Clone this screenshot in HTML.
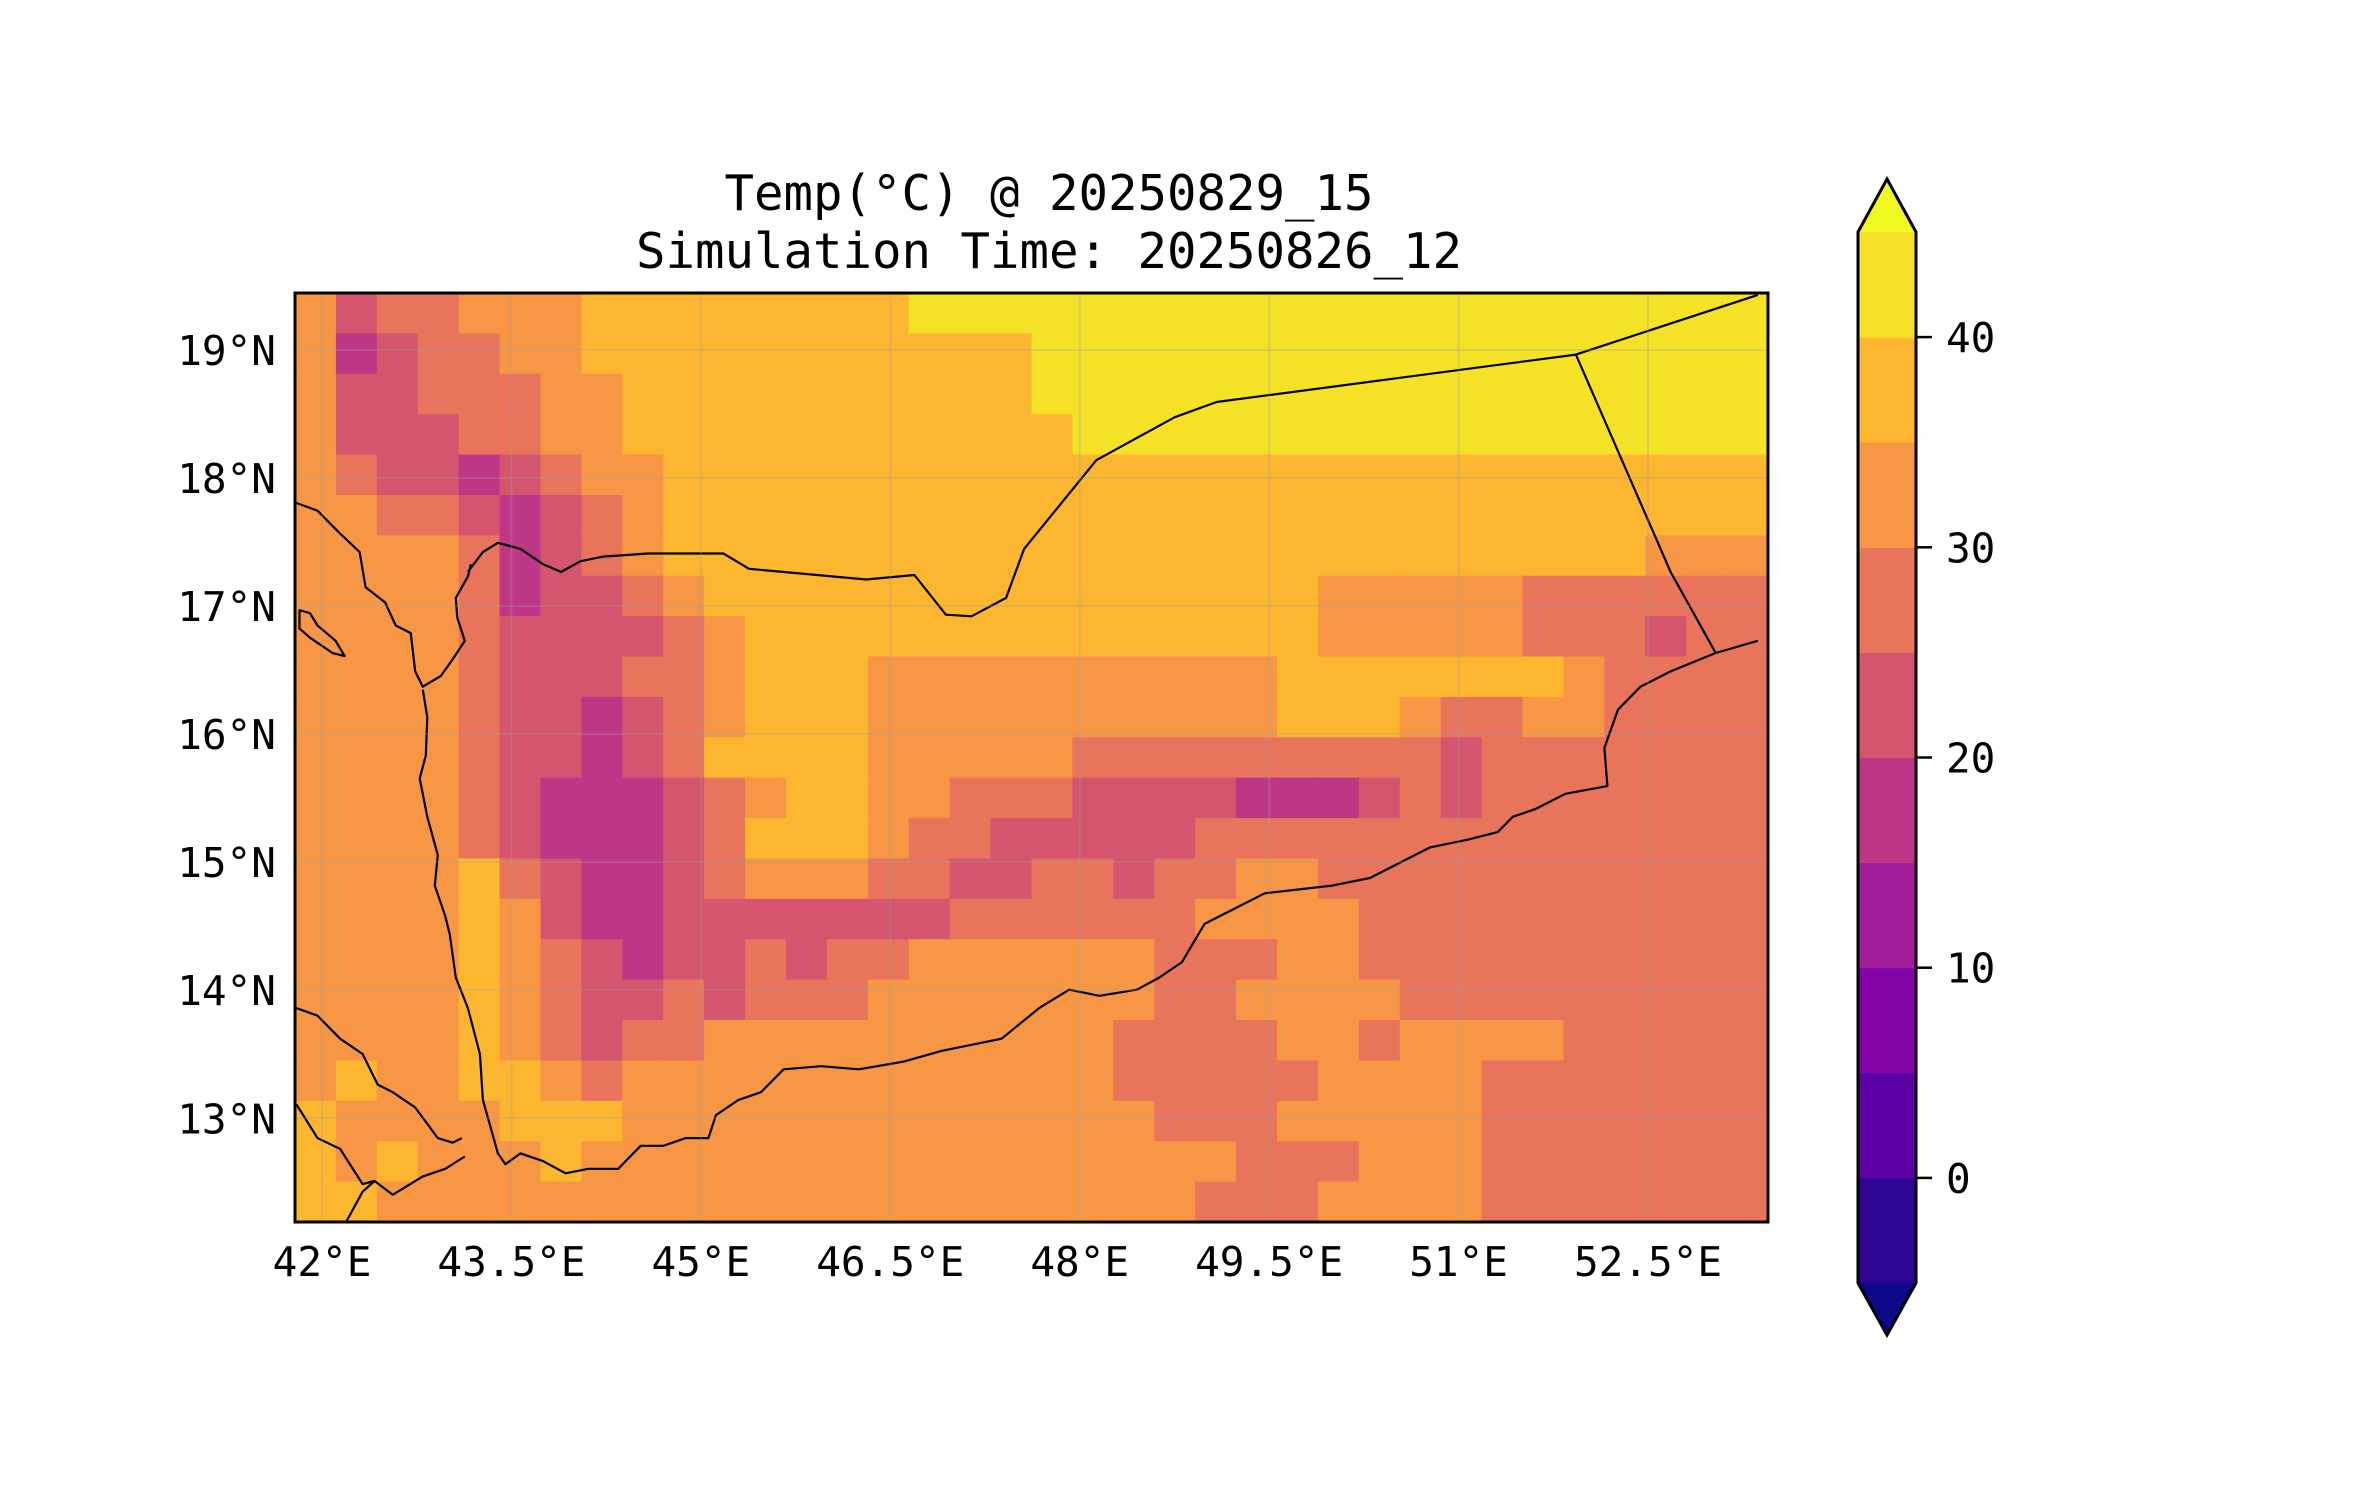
<!DOCTYPE html>
<html><head><meta charset="utf-8">
<style>
html,body{margin:0;padding:0;background:#fff;}
svg{display:block;font-family:"DejaVu Sans Mono","Liberation Mono",monospace;}
</style></head>
<body>
<svg id="fig" width="2371" height="1500" viewBox="0 0 2371 1500" xmlns="http://www.w3.org/2000/svg">
<rect width="2371" height="1500" fill="#fff"/>
<text x="1049" y="210" font-size="49" text-anchor="middle">Temp(°C) @ 20250829_15</text>
<text x="1049" y="268" font-size="49" text-anchor="middle">Simulation Time: 20250826_12</text>
<defs><clipPath id="mapclip"><rect x="295" y="293" width="1473" height="929"/></clipPath></defs>
<g id="map" clip-path="url(#mapclip)"></g>
<g id="lines" clip-path="url(#mapclip)"></g>
<g id="grid"></g>
<rect x="295" y="293" width="1473" height="929" fill="none" stroke="#000" stroke-width="3"/>
<g id="xticks"></g>
<g id="yticks"></g>
<g id="cbar"></g>
</svg>
<script>
// ---- data ----
const levelColors = ["#0d0887","#2c0594","#5c01a6","#8305a7","#a21d9a","#bd3786","#d5546e","#e8745b","#f79745","#fdb62f","#f5e227","#f0f921"];
const levelBounds = [-5,0,5,10,15,20,25,30,35,40,45];
const cbarTicks = [0,10,20,30,40];
const lonTicks = [42,43.5,45,46.5,48,49.5,51,52.5];
const latTicks = [13,14,15,16,17,18,19];
// temperature class grid (digit k -> colour index k+3): rows north->south
const tempGrid = [
"534455566666666777777777777777777777",
"523445566666666666777777777777777777",
"533444556666666666777777777777777777",
"533344556666666666677777777777777777",
"543323455666666666666666666666666666",
"554432345666666666666666666666666666",
"555542345666666666666666666666666555",
"555542334566666666666666655555444444",
"555543333456666666666666655555444344",
"555543334456665555555555666666654444",
"555543323456665555555555666544554444",
"555543323466665555544444444434444444",
"555543222345665544433332223434444444",
"555543222346665443333344444444444444",
"555564322345554433443445544444444444",
"555565322333333344444455554444444444",
"555565432334344555555444554444444444",
"555565433434445555555445555444444444",
"555565434455555555554444554555544444",
"565566545555555555554444455554444444",
"655556665555555555555444555554444444",
"656555655555555555555554445554444444",
"665555555555555555555544455554444444"
];
const lonMin=41.786, lonMax=53.45, latMax=19.445, latMin=12.19;
const X0=295,X1=1768,Y0=293,Y1=1222;
const lx = lon => X0+(lon-lonMin)/(lonMax-lonMin)*(X1-X0);
const ly = lat => Y0+(latMax-lat)/(latMax-latMin)*(Y1-Y0);
const dl = xd => 42+(xd-213)/84;
const dt = yd => 19-(yd-230)/83.67;
const coastArabia=[[196,330],[210,335],[225,350],[238,362],[242,385],[255,395],[262,410],[272,415],[275,440],[280,450],[292,443],[300,432],[308,420],[303,405],[302,392],[310,378],[312,370]];
const coastYemen=[[280,452],[283,470],[282,495],[278,510],[283,535],[290,560],[288,580],[295,600],[298,612],[302,640],[310,660],[318,690],[320,720],[330,755],[335,762],[345,755],[360,760],[375,768],[390,765],[410,765],[425,750],[440,750],[455,745],[470,745],[475,730],[490,720],[505,715],[520,700],[545,698],[570,700],[600,695],[625,688],[665,680],[690,660],[710,648],[730,652],[755,648],[770,640],[785,630],[800,605],[820,595],[840,585],[885,580],[910,575],[930,565],[950,555],[975,550],[995,545],[1005,535],[1020,530],[1040,520],[1068,515],[1066,490],[1075,465],[1090,450],[1110,440],[1140,428],[1168,420]];
const coastAfrica1=[[196,660],[210,665],[225,680],[240,690],[250,710],[260,715],[275,725],[290,745],[300,748],[306,745]];
const coastAfrica2=[[196,723],[210,745],[225,752],[240,775],[248,773],[260,782],[280,770],[295,765],[308,757]];
const borderAfrica=[[225,807],[240,780],[248,773]];
const borderSaudi=[[310,375],[320,362],[330,356],[345,360],[360,370],[372,375],[385,368],[400,365],[430,363],[480,363],[497,373],[575,380],[607,377],[628,403],[645,404],[668,392],[680,360],[728,302],[780,274],[808,264],[1047,233],[1168,194]];
const borderOman=[[1047,233],[1110,375],[1140,428]];
const redIslands=[[198,400],[205,402],[210,410],[222,420],[228,430],[220,428],[205,418],[198,412]];

const NS="http://www.w3.org/2000/svg";
function mk(tag,attrs,parent){const e=document.createElementNS(NS,tag);for(const k in attrs)e.setAttribute(k,attrs[k]);parent.appendChild(e);return e;}

const mapG=document.getElementById('map');
const nR=tempGrid.length,nC=tempGrid[0].length;
const cw=(X1-X0)/nC,ch=(Y1-Y0)/nR;
for(let r=0;r<nR;r++){for(let c=0;c<nC;c++){
  const k=+tempGrid[r][c];
  const cell=mk('rect',{x:(X0+c*cw).toFixed(2),y:(Y0+r*ch).toFixed(2),width:(cw+0.6).toFixed(2),height:(ch+0.6).toFixed(2),fill:levelColors[k+3]},mapG);
  
  
}}

const linesG=document.getElementById('lines');
function poly(pts,name,closed){
  const d=pts.map(p=>lx(dl(p[0])).toFixed(1)+','+ly(dt(p[1])).toFixed(1)).join(' ');
  const e=mk(closed?'polygon':'polyline',{points:d,fill:'none',stroke:'#000','stroke-width':2.2,'stroke-linejoin':'round'},linesG);
  
  
}
poly(coastArabia,'coastline-arabia-red-sea');
poly(coastYemen,'coastline-yemen');
poly(coastAfrica1,'coastline-eritrea');
poly(coastAfrica2,'coastline-djibouti');
poly(borderAfrica,'border-djibouti');
poly(borderSaudi,'border-saudi-yemen');
poly(borderOman,'border-oman');
poly(redIslands,'island-farasan',true);

const gridG=document.getElementById('grid'),xtG=document.getElementById('xticks'),ytG=document.getElementById('yticks');
lonTicks.forEach(v=>{
  const x=lx(v);
  const g=mk('line',{x1:x,x2:x,y1:Y0,y2:Y1,stroke:'rgba(160,160,160,0.3)','stroke-width':2},gridG);
  
  
  const t=mk('text',{x:x,y:1276,'font-size':41,'text-anchor':'middle'},xtG);
  t.textContent=v+'°E';
  
  
});
latTicks.forEach(v=>{
  const y=ly(v);
  const g=mk('line',{x1:X0,x2:X1,y1:y,y2:y,stroke:'rgba(160,160,160,0.3)','stroke-width':2},gridG);
  
  
  const t=mk('text',{x:276,y:y+15,'font-size':41,'text-anchor':'end'},ytG);
  t.textContent=v+'°N';
  
  
});

const cbG=document.getElementById('cbar');
const CX0=1858,CX1=1916,CT=232,CB=1283,tipT=179,tipB=1335;
const cy=v=>CB-(v-levelBounds[0])/(levelBounds[levelBounds.length-1]-levelBounds[0])*(CB-CT);
const cbTop=mk('polygon',{points:`${CX0},${CT} ${(CX0+CX1)/2},${tipT} ${CX1},${CT}`,fill:levelColors[11]},cbG);


const cbBot=mk('polygon',{points:`${CX0},${CB} ${(CX0+CX1)/2},${tipB} ${CX1},${CB}`,fill:levelColors[0]},cbG);


for(let i=0;i<levelBounds.length-1;i++){
  const y1=cy(levelBounds[i+1]),y0=cy(levelBounds[i]);
  const s=mk('rect',{x:CX0,y:y1,width:CX1-CX0,height:y0-y1+0.5,fill:levelColors[i+1]},cbG);
  
  
}
const cbOut=mk('polygon',{points:`${CX0},${CT} ${(CX0+CX1)/2},${tipT} ${CX1},${CT} ${CX1},${CB} ${(CX0+CX1)/2},${tipB} ${CX0},${CB}`,fill:'none',stroke:'#000','stroke-width':3},cbG);


cbarTicks.forEach(v=>{
  const y=cy(v);
  const l=mk('line',{x1:CX1,x2:CX1+16,y1:y,y2:y,stroke:'#000','stroke-width':2.5},cbG);
  
  
  const t=mk('text',{x:1946,y:y+15,'font-size':41},cbG);
  t.textContent=v;
  
  
});
</script>
</body></html>
